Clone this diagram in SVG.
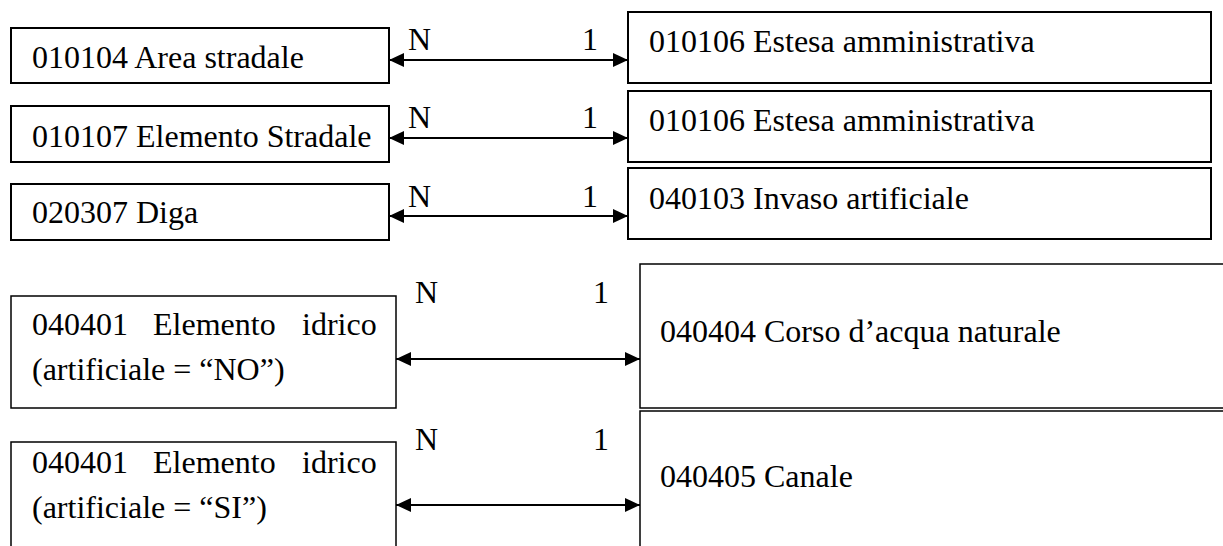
<svg xmlns="http://www.w3.org/2000/svg" width="1223" height="546" viewBox="0 0 1223 546">
<style>
text{font-family:"Liberation Serif","Times New Roman",serif;font-size:32px;fill:#000}
.b{fill:#fff;stroke:#000;stroke-width:2}
.t{fill:#fff;stroke:#000;stroke-width:1.5}
.c{stroke:#000;stroke-width:2;fill:none;marker-start:url(#a);marker-end:url(#a)}
</style>
<defs>
<marker id="a" viewBox="0 0 15 14" refX="15" refY="7" markerWidth="15" markerHeight="14" markerUnits="userSpaceOnUse" orient="auto-start-reverse">
<path d="M0,0 L15,7 L0,14 Z" fill="#000"/>
</marker>
</defs>
<rect width="1223" height="546" fill="#fff"/>
<g id="n1"><rect class="b" x="11" y="28" width="378" height="55"/><text x="32" y="68">010104 Area stradale</text></g>
<g id="n2"><rect class="b" x="11" y="106" width="378" height="56"/><text x="32" y="147">010107 Elemento Stradale</text></g>
<g id="n3"><rect class="b" x="11" y="184" width="378" height="56"/><text x="32" y="223">020307 Diga</text></g>
<g id="n4"><rect class="b" x="628" y="12" width="583" height="71"/><text x="649" y="52">010106 Estesa amministrativa</text></g>
<g id="n5"><rect class="b" x="628" y="91" width="583" height="71"/><text x="649" y="131">010106 Estesa amministrativa</text></g>
<g id="n6"><rect class="b" x="628" y="168" width="583" height="71"/><text x="649" y="209">040103 Invaso artificiale</text></g>
<g id="n7"><rect class="t" x="11" y="296" width="385" height="112"/><text y="335"><tspan x="32">040401</tspan><tspan x="153">Elemento</tspan><tspan x="302">idrico</tspan></text><text x="32" y="380">(artificiale = “NO”)</text></g>
<g id="n8"><rect class="t" x="11" y="442" width="385" height="130"/><text y="473"><tspan x="32">040401</tspan><tspan x="153">Elemento</tspan><tspan x="302">idrico</tspan></text><text x="32" y="518">(artificiale = “SI”)</text></g>
<g id="n9"><rect class="t" x="640" y="264" width="600" height="144"/><text x="660" y="342">040404 Corso d’acqua naturale</text></g>
<g id="n10"><rect class="t" x="640" y="411" width="600" height="160"/><text x="660" y="487">040405 Canale</text></g>
<g id="connectors">
<line class="c" x1="389" y1="60" x2="628" y2="60"/>
<line class="c" x1="389" y1="138" x2="628" y2="138"/>
<line class="c" x1="389" y1="216" x2="628" y2="216"/>
<line class="c" x1="396" y1="359" x2="640" y2="359"/>
<line class="c" x1="396" y1="505" x2="640" y2="505"/>
<text x="408" y="50">N</text><text x="582" y="50">1</text>
<text x="408" y="128">N</text><text x="582" y="128">1</text>
<text x="408" y="207">N</text><text x="582" y="207">1</text>
<text x="415" y="303">N</text><text x="593" y="303">1</text>
<text x="415" y="450">N</text><text x="593" y="450">1</text>
</g>
</svg>
